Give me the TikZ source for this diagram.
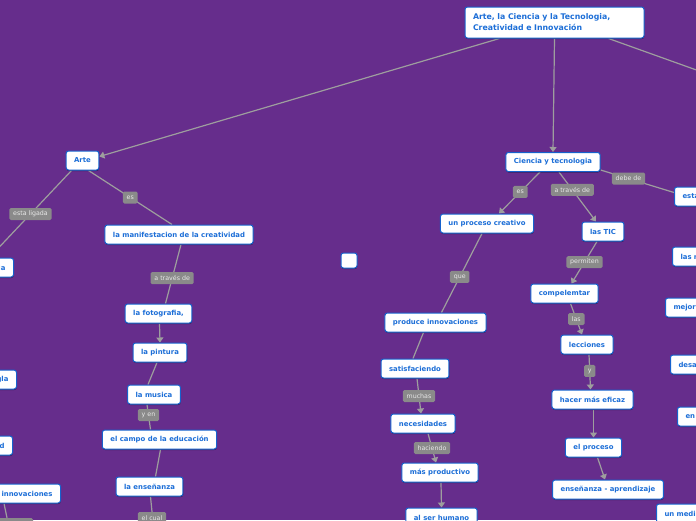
\documentclass[tikz,border=0pt]{standalone}
\usepackage{fontspec}
\setmainfont{DejaVu Sans}
\usetikzlibrary{arrows.meta,shadows}
\definecolor{bgpurple}{RGB}{102,45,140}
\definecolor{nodeblue}{RGB}{28,110,215}
\definecolor{borderblue}{RGB}{22,98,205}
\definecolor{lblgray}{RGB}{138,138,138}
\definecolor{lbltext}{RGB}{232,232,232}
\definecolor{linegray}{RGB}{158,158,158}
\pgfdeclarelayer{bg}
\pgfdeclarelayer{edges}
\pgfsetlayers{bg,edges,main}
\tikzset{
 concept/.style={draw=borderblue, line width=1pt, fill=white, rounded corners=2.5pt, text=nodeblue,
   font=\fontsize{6.9}{8}\selectfont\bfseries, inner xsep=8pt, inner ysep=0pt, minimum height=19pt,
   drop shadow={shadow xshift=0.3pt, shadow yshift=-1pt, opacity=0.45, fill=black}},
 lbl/.style={fill=lblgray, rounded corners=1.5pt, text=lbltext, font=\fontsize{6.3}{7}\selectfont,
   inner xsep=3.8pt, inner ysep=0pt, minimum height=12pt},
 link/.style={draw=linegray, line width=1.2pt},
 arr/.style={link, -{Triangle[width=7pt,length=5pt]}},
}
\begin{document}
\begin{tikzpicture}[x=1pt,y=-1pt]
\useasboundingbox (0,0) rectangle (696,520);
\begin{pgfonlayer}{bg}
\fill[bgpurple] (0,0) rectangle (696,520);
\end{pgfonlayer}

% title
\node[concept, text width=163pt, align=left, font=\fontsize{7.8}{11}\selectfont\bfseries, minimum height=31pt] (title) at (554.5,22.5) {Arte, la Ciencia y la Tecnologia,\\Creatividad e Innovación};

% left branch
\node[concept] (arte) at (82.5,160.5) {Arte};
\node[concept] (manif) at (179,234.5) {la manifestacion de la creatividad};
\node[concept] (foto) at (158.5,313.5) {la fotografia,};
\node[concept] (pint) at (160,352.5) {la pintura};
\node[concept] (musica) at (154,394.5) {la musica};
\node[concept] (campo) at (159.5,439.5) {el campo de la educación};
\node[concept] (ens) at (149.5,486.5) {la enseñanza};
\node[lbl] (elcual) at (152,518) {el cual};

\node[concept, anchor=east, text width=32pt, align=right] (nia) at (14,267.5) {ia};
\node[concept, anchor=east, text width=32pt, align=right] (ngla) at (17,379.5) {gla};
\node[concept, anchor=east, text width=32pt, align=right] (nd) at (13,445.5) {d};
\node[concept, anchor=east] (ninn) at (61,493.5) {innovaciones};
\node[lbl, minimum width=40pt] (ninnl) at (13,524) {};

% empty box
\node[concept, minimum width=16pt, minimum height=15pt, inner sep=0pt] (empty) at (349,260.5) {};

% right branch
\node[concept] (cyt) at (553,162) {Ciencia y tecnologia};
\node[concept] (proc) at (487,223.5) {un proceso creativo};
\node[concept] (tic) at (603,231.5) {las TIC};
\node[concept, anchor=west, text width=50pt, align=left] (esta) at (674,196.5) {esta};
\node[concept, anchor=west, text width=50pt, align=left] (lasn) at (672,256.5) {las n};
\node[concept, anchor=west, text width=50pt, align=left] (mejor) at (665,307.5) {mejor};
\node[concept, anchor=west, text width=50pt, align=left] (desa) at (670,364.5) {desa};
\node[concept, anchor=west, text width=50pt, align=left] (en) at (677,416.5) {en};
\node[concept, anchor=west, text width=50pt, align=left] (unmedi) at (656,513.5) {un medi};
\node[concept] (produce) at (435.5,322.5) {produce innovaciones};
\node[concept] (satisf) at (415,368.5) {satisfaciendo};
\node[concept] (nec) at (423,423.5) {necesidades};
\node[concept] (masprod) at (440,472.5) {más productivo};
\node[concept] (alser) at (441.5,517.5) {al ser humano};
\node[concept] (comp) at (564.5,293.5) {compelemtar};
\node[concept] (lecc) at (587,344.5) {lecciones};
\node[concept] (hacer) at (592.5,399.5) {hacer más eficaz};
\node[concept] (elproc) at (593.5,447.5) {el proceso};
\node[concept] (ea) at (608,489.5) {enseñanza - aprendizaje};

\coordinate (offR) at (702,72);

\begin{pgfonlayer}{edges}
\draw[arr] ([xshift=-55pt]title.south) -- ([yshift=4pt]arte.east);
\draw[arr] (title.south) -- (cyt.north);
\draw[link] ([xshift=54pt]title.south) -- (offR);

\draw[link] ([xshift=-11pt]arte.south) -- node[lbl,pos=0.5] (l1) {esta ligada} (nia.north);
\draw[link] ([xshift=6pt]arte.south) -- node[lbl] (l2) {es} ([xshift=-7pt]manif.north);
\draw[link] ([xshift=2pt]manif.south) -- node[lbl,pos=0.57] (l3) {a través de} ([xshift=7pt]foto.north);
\draw[arr] ([xshift=1pt]foto.south) -- (pint.north);
\draw[link] ([xshift=-3pt]pint.south) -- ([xshift=-6pt]musica.north);
\draw[link] ([xshift=-7pt]musica.south) -- node[lbl,pos=0.42] (l4) {y en} ([xshift=-9pt]campo.north);
\draw[link] ([xshift=1pt]campo.south) -- ([xshift=6pt]ens.north);
\draw[link] ([xshift=1pt]ens.south) -- (elcual.north);
\draw[link] ([xshift=-23pt]ninn.south) -- ([xshift=-6pt]ninnl.north);

\draw[arr] ([xshift=-13pt]cyt.south) -- node[lbl,pos=0.48] (l5) {es} ([xshift=12pt]proc.north);
\draw[arr] ([xshift=6pt]cyt.south) -- node[lbl,pos=0.36] (l6) {a través de} ([xshift=-7pt]tic.north);
\draw[link] ([yshift=2pt]cyt.south east) -- node[lbl,pos=0.38] (l7) {debe de} ([yshift=4pt]esta.west);
\draw[link] ([xshift=-5pt]proc.south) -- node[lbl,pos=0.55] (l8) {que} ([xshift=6pt]produce.north);
\draw[link] ([xshift=-12pt]produce.south) -- ([xshift=-2pt]satisf.north);
\draw[arr] ([xshift=2pt]satisf.south) -- node[lbl] (l9) {muchas} ([xshift=-2pt]nec.north);
\draw[arr] ([xshift=5pt]nec.south) -- node[lbl] (l10) {haciendo} ([xshift=-4pt]masprod.north);
\draw[arr] ([xshift=1pt]masprod.south) -- (alser.north);
\draw[arr] ([xshift=-6pt]tic.south) -- node[lbl,pos=0.49] (l11) {permiten} ([xshift=7pt]comp.north);
\draw[arr] ([xshift=6pt]comp.south) -- node[lbl] (l12) {las} ([xshift=-5pt]lecc.north);
\draw[arr] ([xshift=2pt]lecc.south) -- node[lbl,pos=0.47] (l13) {y} ([xshift=-2pt]hacer.north);
\draw[arr] ([xshift=1pt]hacer.south) -- (elproc.north);
\draw[arr] ([xshift=4pt]elproc.south) -- ([xshift=-3pt]ea.north);
\end{pgfonlayer}
\end{tikzpicture}
\end{document}
